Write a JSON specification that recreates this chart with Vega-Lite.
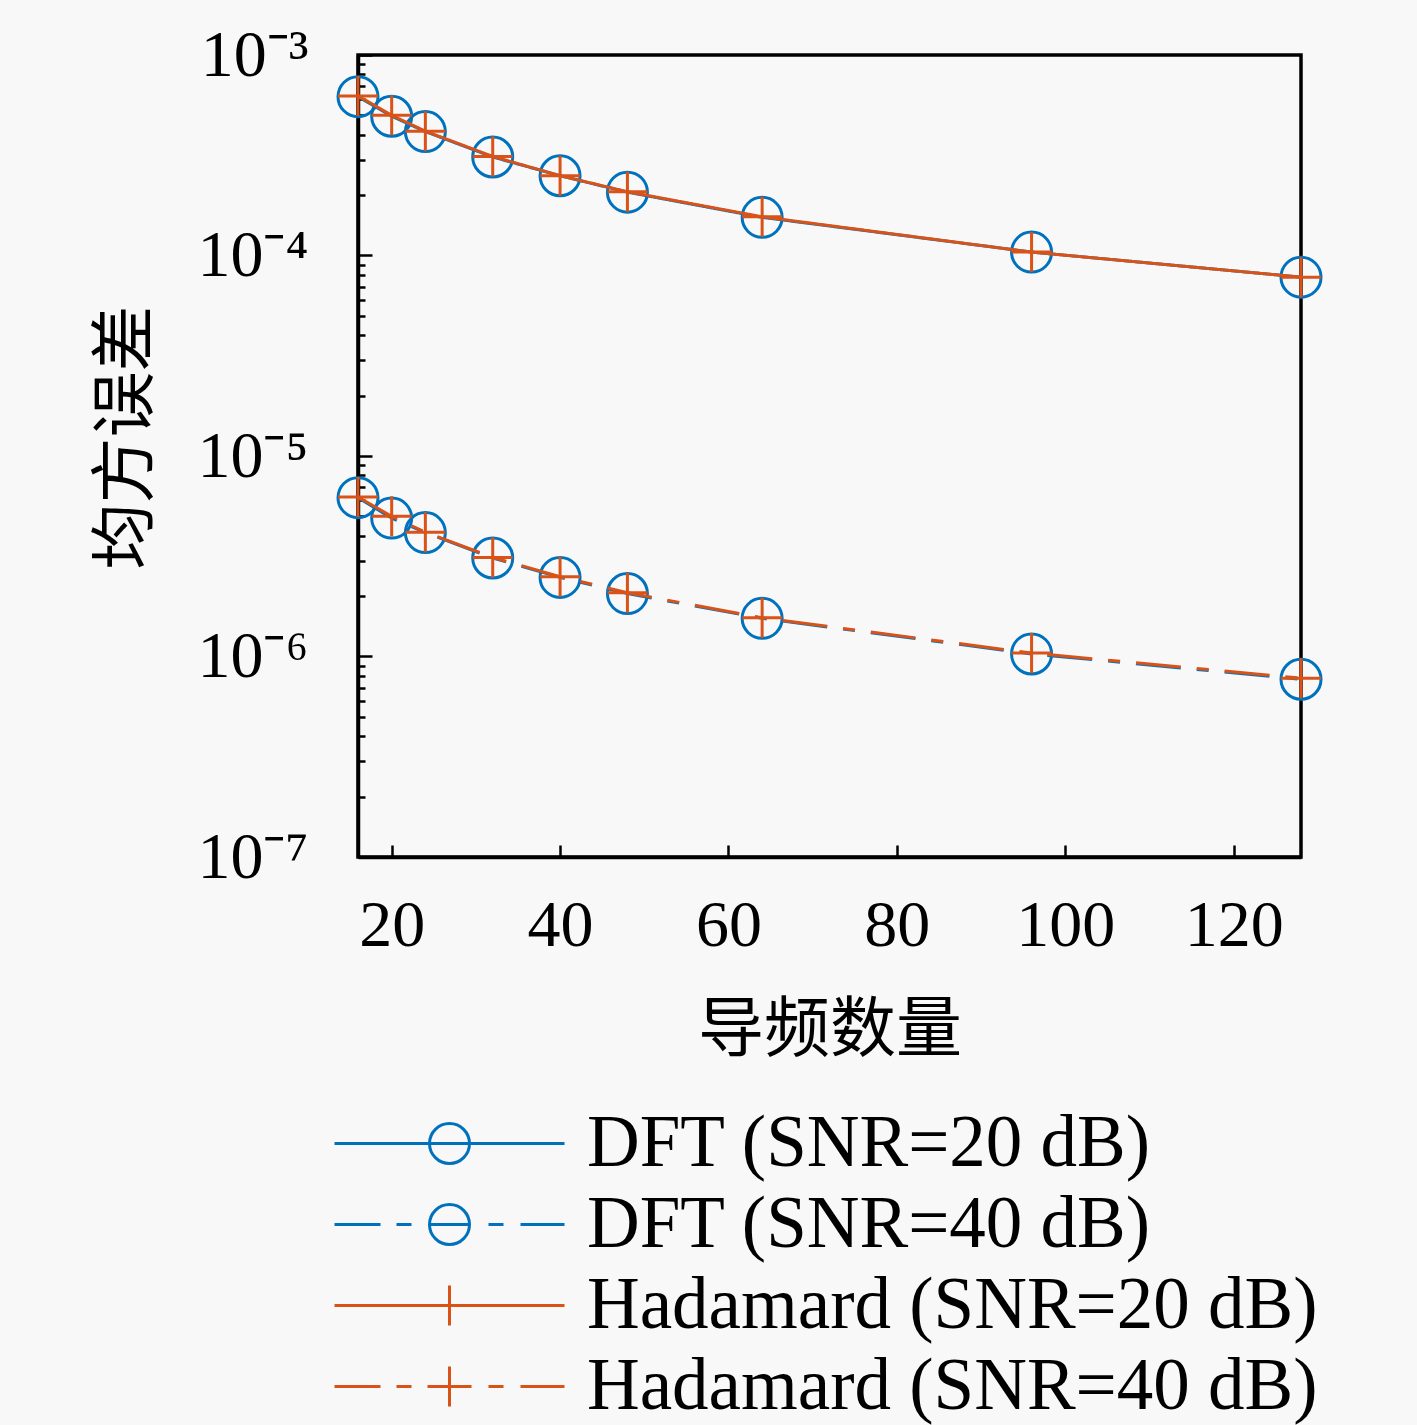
{
  "$schema": "https://vega.github.io/schema/vega-lite/v6.json",
  "width": 943,
  "height": 802,
  "padding": {"left": 93, "top": 22, "right": 100, "bottom": 6},
  "background": "#f8f8f8",
  "config": {
    "view": {"stroke": "black", "strokeWidth": 3.5},
    "axis": {
      "domainColor": "black",
      "domainWidth": 3.5,
      "tickColor": "black",
      "tickWidth": 2.5,
      "grid": false,
      "labelFont": "Liberation Serif",
      "labelFontSize": 66,
      "labelColor": "black",
      "titleFont": "Noto Sans CJK SC",
      "titleFontSize": 66,
      "titleFontWeight": "normal",
      "titleColor": "black"
    }
  },
  "data": {
    "values": [
      {"series": "DFT (SNR=20 dB)", "snr": "20 dB", "pilots": 16, "mse": 6.2e-4},
      {"series": "DFT (SNR=20 dB)", "snr": "20 dB", "pilots": 20, "mse": 4.95e-4},
      {"series": "DFT (SNR=20 dB)", "snr": "20 dB", "pilots": 24, "mse": 4.15e-4},
      {"series": "DFT (SNR=20 dB)", "snr": "20 dB", "pilots": 32, "mse": 3.1e-4},
      {"series": "DFT (SNR=20 dB)", "snr": "20 dB", "pilots": 40, "mse": 2.5e-4},
      {"series": "DFT (SNR=20 dB)", "snr": "20 dB", "pilots": 48, "mse": 2.07e-4},
      {"series": "DFT (SNR=20 dB)", "snr": "20 dB", "pilots": 64, "mse": 1.55e-4},
      {"series": "DFT (SNR=20 dB)", "snr": "20 dB", "pilots": 96, "mse": 1.04e-4},
      {"series": "DFT (SNR=20 dB)", "snr": "20 dB", "pilots": 128, "mse": 7.8e-5},
      {"series": "DFT (SNR=40 dB)", "snr": "40 dB", "pilots": 16, "mse": 6.2e-6},
      {"series": "DFT (SNR=40 dB)", "snr": "40 dB", "pilots": 20, "mse": 4.9e-6},
      {"series": "DFT (SNR=40 dB)", "snr": "40 dB", "pilots": 24, "mse": 4.15e-6},
      {"series": "DFT (SNR=40 dB)", "snr": "40 dB", "pilots": 32, "mse": 3.1e-6},
      {"series": "DFT (SNR=40 dB)", "snr": "40 dB", "pilots": 40, "mse": 2.48e-6},
      {"series": "DFT (SNR=40 dB)", "snr": "40 dB", "pilots": 48, "mse": 2.06e-6},
      {"series": "DFT (SNR=40 dB)", "snr": "40 dB", "pilots": 64, "mse": 1.55e-6},
      {"series": "DFT (SNR=40 dB)", "snr": "40 dB", "pilots": 96, "mse": 1.03e-6},
      {"series": "DFT (SNR=40 dB)", "snr": "40 dB", "pilots": 128, "mse": 7.7e-7},
      {"series": "Hadamard (SNR=20 dB)", "snr": "20 dB", "pilots": 16, "mse": 6.25e-4},
      {"series": "Hadamard (SNR=20 dB)", "snr": "20 dB", "pilots": 20, "mse": 5.0e-4},
      {"series": "Hadamard (SNR=20 dB)", "snr": "20 dB", "pilots": 24, "mse": 4.17e-4},
      {"series": "Hadamard (SNR=20 dB)", "snr": "20 dB", "pilots": 32, "mse": 3.12e-4},
      {"series": "Hadamard (SNR=20 dB)", "snr": "20 dB", "pilots": 40, "mse": 2.5e-4},
      {"series": "Hadamard (SNR=20 dB)", "snr": "20 dB", "pilots": 48, "mse": 2.08e-4},
      {"series": "Hadamard (SNR=20 dB)", "snr": "20 dB", "pilots": 64, "mse": 1.56e-4},
      {"series": "Hadamard (SNR=20 dB)", "snr": "20 dB", "pilots": 96, "mse": 1.04e-4},
      {"series": "Hadamard (SNR=20 dB)", "snr": "20 dB", "pilots": 128, "mse": 7.8e-5},
      {"series": "Hadamard (SNR=40 dB)", "snr": "40 dB", "pilots": 16, "mse": 6.25e-6},
      {"series": "Hadamard (SNR=40 dB)", "snr": "40 dB", "pilots": 20, "mse": 5.0e-6},
      {"series": "Hadamard (SNR=40 dB)", "snr": "40 dB", "pilots": 24, "mse": 4.17e-6},
      {"series": "Hadamard (SNR=40 dB)", "snr": "40 dB", "pilots": 32, "mse": 3.12e-6},
      {"series": "Hadamard (SNR=40 dB)", "snr": "40 dB", "pilots": 40, "mse": 2.5e-6},
      {"series": "Hadamard (SNR=40 dB)", "snr": "40 dB", "pilots": 48, "mse": 2.08e-6},
      {"series": "Hadamard (SNR=40 dB)", "snr": "40 dB", "pilots": 64, "mse": 1.56e-6},
      {"series": "Hadamard (SNR=40 dB)", "snr": "40 dB", "pilots": 96, "mse": 1.04e-6},
      {"series": "Hadamard (SNR=40 dB)", "snr": "40 dB", "pilots": 128, "mse": 7.8e-7}
    ]
  },
  "layer": [
    {
      "mark": {"type": "point", "filled": false, "strokeWidth": 3, "opacity": 0, "size": 1600},
      "encoding": {
        "x": {
          "field": "pilots",
          "type": "quantitative",
          "scale": {"domain": [16, 128], "nice": false, "zero": false},
          "axis": {
            "title": "导频数量",
            "values": [20, 40, 60, 80, 100, 120],
            "tickSize": -12,
            "labelPadding": 48,
            "titlePadding": 40
          }
        },
        "y": {
          "field": "mse",
          "type": "quantitative",
          "scale": {"type": "log", "domain": [1e-7, 1e-3], "nice": false},
          "axis": {
            "title": "均方误差",
            "titleY": 382,
            "values": [1e-7, 2e-7, 3e-7, 4e-7, 5e-7, 6e-7, 7e-7, 8e-7, 9e-7,
                       1e-6, 2e-6, 3e-6, 4e-6, 5e-6, 6e-6, 7e-6, 8e-6, 9e-6,
                       1e-5, 2e-5, 3e-5, 4e-5, 5e-5, 6e-5, 7e-5, 8e-5, 9e-5,
                       1e-4, 2e-4, 3e-4, 4e-4, 5e-4, 6e-4, 7e-4, 8e-4, 9e-4, 1e-3],
            "labelExpr": "abs(log(datum.value)/LN10 - round(log(datum.value)/LN10)) < 0.001 ? '10' + ['⁻³','⁻⁴','⁻⁵','⁻⁶','⁻⁷'][-round(log(datum.value)/LN10) - 3] : ''",
            "tickSize": {"condition": {"test": "abs(log(datum.value)/LN10 - round(log(datum.value)/LN10)) < 0.001", "value": -14}, "value": -7},
            "labelPadding": 64,
            "titlePadding": 36
          }
        },
        "color": {
          "field": "series",
          "type": "nominal",
          "scale": {
            "domain": ["DFT (SNR=20 dB)", "DFT (SNR=40 dB)", "Hadamard (SNR=20 dB)", "Hadamard (SNR=40 dB)"],
            "range": ["#0072BD", "#0072BD", "#D95319", "#D95319"]
          },
          "legend": {
            "title": null,
            "orient": "none",
            "legendX": 55,
            "legendY": 1052,
            "symbolSize": 1600,
            "symbolStrokeWidth": 3,
            "symbolOpacity": 1,
            "labelFont": "Liberation Serif",
            "labelFontSize": 73,
            "labelColor": "black",
            "labelOffset": 101,
            "labelLimit": 2000,
            "rowPadding": 7
          }
        },
        "shape": {
          "field": "series",
          "type": "nominal",
          "scale": {
            "domain": ["DFT (SNR=20 dB)", "DFT (SNR=40 dB)", "Hadamard (SNR=20 dB)", "Hadamard (SNR=40 dB)"],
            "range": [
              "M-1,0A1,1 0 1,0 1,0A1,1 0 1,0 -1,0M-5.75,0H5.75",
              "M-1,0A1,1 0 1,0 1,0A1,1 0 1,0 -1,0M-5.75,0H-3.45M-2.65,0H-1.9M-1,0H1M1.95,0H2.7M3.55,0H5.75",
              "M0,-1V1M-5.75,0H5.75",
              "M0,-1V1M-5.75,0H-3.45M-2.65,0H-1.9M-1.1,0H1.1M1.95,0H2.7M3.55,0H5.75"
            ]
          },
          "legend": {"title": null}
        }
      }
    },
    {
      "transform": [{"filter": "indexof(datum.series, 'DFT') == 0"}],
      "mark": {"type": "line", "strokeWidth": 3},
      "encoding": {
        "x": {"field": "pilots", "type": "quantitative"},
        "y": {"field": "mse", "type": "quantitative"},
        "color": {"field": "series", "type": "nominal", "legend": null},
        "detail": {"field": "series"},
        "strokeDash": {
          "field": "snr",
          "type": "nominal",
          "scale": {"domain": ["20 dB", "40 dB"], "range": [[1, 0], [45, 16, 12, 16]]},
          "legend": null
        }
      }
    },
    {
      "transform": [{"filter": "indexof(datum.series, 'DFT') == 0"}],
      "mark": {"type": "point", "shape": "circle", "filled": false, "size": 1600, "strokeWidth": 3, "opacity": 1},
      "encoding": {
        "x": {"field": "pilots", "type": "quantitative"},
        "y": {"field": "mse", "type": "quantitative"},
        "color": {"field": "series", "type": "nominal", "legend": null}
      }
    },
    {
      "transform": [{"filter": "indexof(datum.series, 'Hadamard') == 0"}],
      "mark": {"type": "line", "strokeWidth": 3},
      "encoding": {
        "x": {"field": "pilots", "type": "quantitative"},
        "y": {"field": "mse", "type": "quantitative"},
        "color": {"field": "series", "type": "nominal", "legend": null},
        "detail": {"field": "series"},
        "strokeDash": {"field": "snr", "type": "nominal", "legend": null}
      }
    },
    {
      "transform": [{"filter": "indexof(datum.series, 'Hadamard') == 0"}],
      "mark": {"type": "point", "shape": "M-1,0H1M0,-1V1", "filled": false, "size": 1600, "strokeWidth": 3, "opacity": 1},
      "encoding": {
        "x": {"field": "pilots", "type": "quantitative"},
        "y": {"field": "mse", "type": "quantitative"},
        "color": {"field": "series", "type": "nominal", "legend": null}
      }
    }
  ]
}
